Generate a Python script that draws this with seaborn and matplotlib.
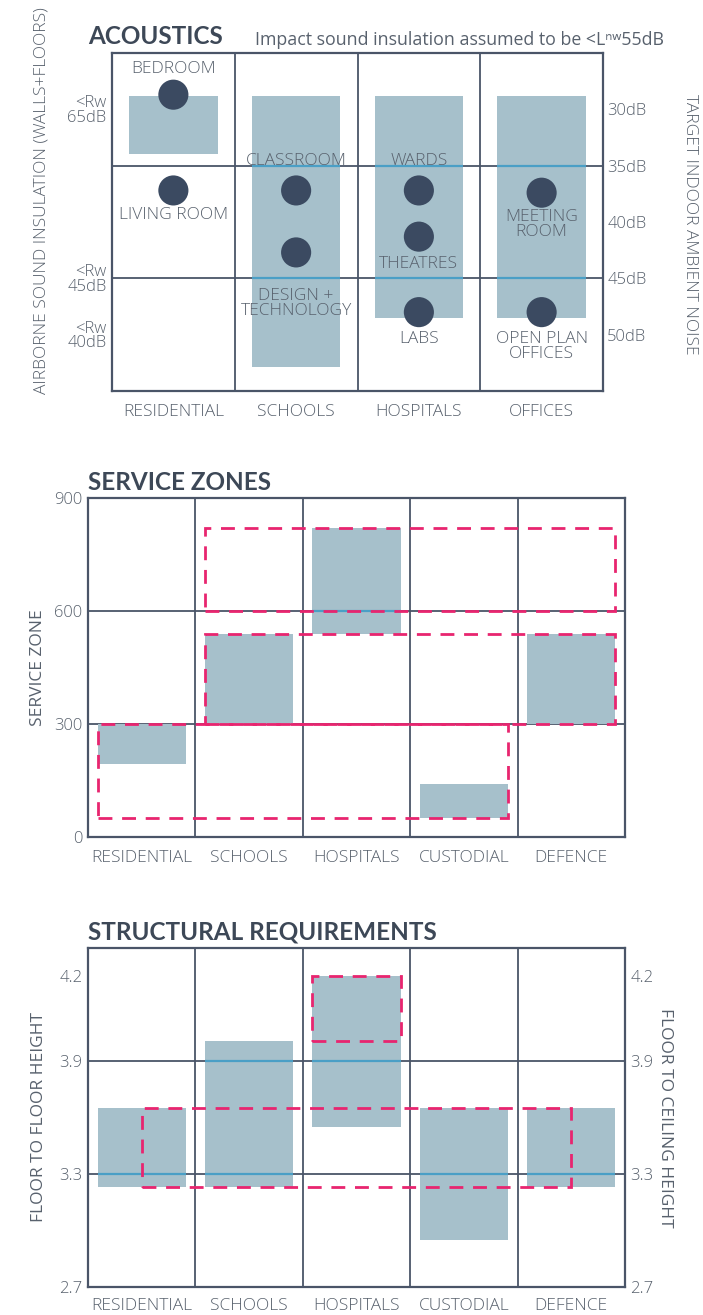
import numpy as np
import pandas as pd
import matplotlib
matplotlib.use("Agg")
import matplotlib.pyplot as plt
from matplotlib.patches import Rectangle
import seaborn as sns

# ---------- data ----------
# acoustics (y = target indoor ambient noise, dB)
AC_CATS = ["RESIDENTIAL", "SCHOOLS", "HOSPITALS", "OFFICES"]
AC_BAR_LOW = [28.8, 28.8, 28.8, 28.8]
AC_BAR_HIGH = [34.0, 52.9, 48.5, 48.5]
AC_ROOMS = ["BEDROOM", "LIVING ROOM", "CLASSROOM", "DESIGN +\nTECHNOLOGY", "WARDS",
            "THEATRES", "LABS", "MEETING\nROOM", "OPEN PLAN\nOFFICES"]
AC_ROOM_CAT = ["RESIDENTIAL", "RESIDENTIAL", "SCHOOLS", "SCHOOLS", "HOSPITALS",
               "HOSPITALS", "HOSPITALS", "OFFICES", "OFFICES"]
AC_ROOM_DB = [28.7, 37.2, 37.2, 42.7, 37.2, 41.3, 48.0, 37.4, 48.0]
AC_NOISE_TICKS = [30, 35, 40, 45, 50]
AC_NOISE_LABELS = ["30dB", "35dB", "40dB", "45dB", "50dB"]
AC_RW_TICKS = [30, 45, 50]
AC_RW_LABELS = ["<Rw\n65dB", "<Rw\n45dB", "<Rw\n40dB"]
AC_GRID = [35, 45]

# service zones
SZ_CATS = ["RESIDENTIAL", "SCHOOLS", "HOSPITALS", "CUSTODIAL", "DEFENCE"]
SZ_LOW = [195, 300, 540, 50, 300]
SZ_HIGH = [300, 540, 820, 140, 540]
SZ_BOX_FROM = ["RESIDENTIAL", "SCHOOLS", "SCHOOLS"]
SZ_BOX_TO = ["CUSTODIAL", "DEFENCE", "DEFENCE"]
SZ_BOX_LOW = [50, 300, 600]
SZ_BOX_HIGH = [300, 540, 820]
SZ_TICKS = [0, 300, 600, 900]
SZ_GRID = [300, 600]

# structural requirements (m)
ST_CATS = ["RESIDENTIAL", "SCHOOLS", "HOSPITALS", "CUSTODIAL", "DEFENCE"]
ST_LOW = [3.23, 3.23, 3.55, 2.95, 3.23]
ST_HIGH = [3.65, 3.97, 4.2, 3.65, 3.65]
ST_BOX_FROM = ["HOSPITALS", "RESIDENTIAL"]
ST_BOX_TO = ["HOSPITALS", "DEFENCE"]
ST_BOX_LOW = [3.97, 3.23]
ST_BOX_HIGH = [4.2, 3.65]
ST_TICKS = [2.7, 3.3, 3.9, 4.2]
ST_GRID = [3.3, 3.9]

# ---------- style ----------
BAR = "#a6c0cb"
BLUE = "#4a9fc6"
FRAME = "#4a5568"
PINK = "#e8256f"
DOT = "#3b4a61"
TITLE = "#3d4857"
GREY = "#58616d"
DASH = (0, (5, 3.5))
BODY = ["Open Sans", "DejaVu Sans"]
HEAD = ["Lato", "DejaVu Sans"]
FS = 12.5      # category / room / axis labels
FS_TICK = 12   # numeric tick labels

# piecewise y scale of the structural panel
ST_SCALE_IN = [2.7, 3.9, 4.3]
ST_SCALE_OUT = [0, 2, 3]
# dashed box padding (bar edge = half bar width, 0 = category centre)
SZ_BOX_PAD = [0.41, 0.41, 0.41]
ST_BOX_PAD = [0.41, 0.0]
# room label offsets in pixels (negative = above the dot)
ROOM_OFFSET = [-18, 17, -21, 36, -21, 19, 19, 16, 19]

sns.set_theme(style="white")
plt.rcParams['font.family'] = BODY
plt.rcParams['font.weight'] = 'light'

fig = plt.figure(figsize=(7.03, 13.15), dpi=100)


def frame(ax, ncat, grid):
    ax.set_xlim(-0.5, ncat - 0.5)
    for s in ax.spines.values():
        s.set_visible(True)
        s.set_color(FRAME)
        s.set_linewidth(1.6)
    for g in grid:
        ax.axhline(g, color=FRAME, lw=1.3, zorder=1)
    for i in range(ncat - 1):
        ax.axvline(i + 0.5, color=FRAME, lw=1.3, zorder=1)
    ax.tick_params(length=0, labelsize=FS_TICK, labelcolor=GREY, pad=4)
    ax.tick_params(axis="x", labelsize=FS)
    ax.set_xticks(range(ncat))


def float_bars(ax, cats, lo, hi, width, grid):
    x = np.arange(len(cats))
    ax.bar(x, np.subtract(hi, lo), bottom=lo, width=width, color=BAR, zorder=2, linewidth=0)
    for xi, l, h in zip(x, lo, hi):
        for g in grid:
            if min(l, h) < g < max(l, h):
                ax.hlines(g, xi - width / 2, xi + width / 2, color=BLUE, lw=1.6, zorder=3)


def dashed_boxes(ax, cats, c0, c1, lo, hi, pads):
    for a, b, l, h, p in zip(c0, c1, lo, hi, pads):
        x0 = cats.index(a) - p
        x1 = cats.index(b) + p
        ax.add_patch(Rectangle((x0, l), x1 - x0, h - l, fill=False, ec=PINK,
                               lw=2.0, ls=DASH, zorder=5))


def title(y, text):
    fig.text(88 / 703, 1 - y / 1315, text, fontsize=17.5, fontweight="bold",
             family=HEAD, color=TITLE, ha="left", va="center")


# ================= ACOUSTICS =================
ax1 = fig.add_axes([112 / 703, 1 - 391 / 1315, 491 / 703, 338 / 1315])
frame(ax1, len(AC_CATS), AC_GRID)
ax1.set_ylim(55, 25)
float_bars(ax1, AC_CATS, AC_BAR_LOW, AC_BAR_HIGH, 0.72, AC_GRID)

rooms = pd.DataFrame({"room": AC_ROOMS, "cat": AC_ROOM_CAT, "db": AC_ROOM_DB})
rooms["x"] = rooms["cat"].map({c: i for i, c in enumerate(AC_CATS)})
sns.scatterplot(data=rooms, x="x", y="db", s=470, color=DOT, edgecolor="none",
                ax=ax1, zorder=4, legend=False)
for (_, r), off in zip(rooms.iterrows(), ROOM_OFFSET):
    ax1.annotate(r["room"], (r["x"], r["db"]), xytext=(0, -off), textcoords="offset pixels",
                 ha="center", va="bottom" if off < 0 else "top", fontsize=FS,
                 color=GREY, linespacing=0.92, zorder=6)

ax1.set_xticklabels(AC_CATS)
ax1.set_yticks(AC_RW_TICKS)
ax1.set_yticklabels(AC_RW_LABELS, linespacing=0.85)
ax1.set_xlabel("")
ax1.set_ylabel("")
ax1.tick_params(axis="x", pad=9)

ax1r = ax1.twinx()
ax1r.set_ylim(55, 25)
ax1r.set_yticks(AC_NOISE_TICKS)
ax1r.set_yticklabels(AC_NOISE_LABELS)
ax1r.tick_params(length=0, labelsize=FS_TICK, labelcolor=GREY, pad=3)
for s in ax1r.spines.values():
    s.set_visible(False)
ax1r.grid(False)

fig.text(42 / 703, 1 - 201 / 1315, "AIRBORNE SOUND INSULATION (WALLS+FLOORS)", rotation=90,
         ha="center", va="center", fontsize=FS, color=GREY)
fig.text(690 / 703, 1 - 224 / 1315, "TARGET INDOOR AMBIENT NOISE", rotation=270,
         ha="center", va="center", fontsize=FS, color=GREY)
title(37, "ACOUSTICS")
fig.text(255 / 703, 1 - 40 / 1315, "Impact sound insulation assumed to be <L\u207f\u02b755dB",
         fontsize=12.8, color=GREY, ha="left", va="center", fontweight="normal",
         family=["Open Sans", "Noto Sans", "DejaVu Sans"])

# ================= SERVICE ZONES =================
ax2 = fig.add_axes([88 / 703, 1 - 837 / 1315, 537 / 703, 339 / 1315])
frame(ax2, len(SZ_CATS), SZ_GRID)
ax2.set_ylim(0, 900)
float_bars(ax2, SZ_CATS, SZ_LOW, SZ_HIGH, 0.82, SZ_GRID)
dashed_boxes(ax2, SZ_CATS, SZ_BOX_FROM, SZ_BOX_TO, SZ_BOX_LOW, SZ_BOX_HIGH, SZ_BOX_PAD)
ax2.set_xticklabels(SZ_CATS)
ax2.set_yticks(SZ_TICKS)
ax2.tick_params(axis="x", pad=9)
ax2.set_ylabel("SERVICE ZONE", fontsize=FS, color=GREY, labelpad=6)
title(482, "SERVICE ZONES")

# ================= STRUCTURAL REQUIREMENTS =================
fwd = lambda v: np.interp(v, ST_SCALE_IN, ST_SCALE_OUT)
inv = lambda v: np.interp(v, ST_SCALE_OUT, ST_SCALE_IN)

ax3 = fig.add_axes([88 / 703, 1 - 1287 / 1315, 537 / 703, 339 / 1315])
ax3.set_yscale("function", functions=(fwd, inv))
frame(ax3, len(ST_CATS), ST_GRID)
ax3.set_ylim(ST_SCALE_IN[0], ST_SCALE_IN[-1])
float_bars(ax3, ST_CATS, ST_LOW, ST_HIGH, 0.82, ST_GRID)
dashed_boxes(ax3, ST_CATS, ST_BOX_FROM, ST_BOX_TO, ST_BOX_LOW, ST_BOX_HIGH, ST_BOX_PAD)
ax3.set_xticklabels(ST_CATS)
ax3.set_yticks(ST_TICKS)
ax3.set_yticklabels([f"{t:.1f}" for t in ST_TICKS])
ax3.minorticks_off()
ax3.tick_params(axis="x", pad=8)
ax3.set_ylabel("FLOOR TO FLOOR HEIGHT", fontsize=FS, color=GREY, labelpad=9)

ax3r = ax3.twinx()
ax3r.set_yscale("function", functions=(fwd, inv))
ax3r.set_ylim(ST_SCALE_IN[0], ST_SCALE_IN[-1])
ax3r.set_yticks(ST_TICKS)
ax3r.set_yticklabels([f"{t:.1f}" for t in ST_TICKS])
ax3r.minorticks_off()
ax3r.tick_params(length=0, labelsize=FS_TICK, labelcolor=GREY, pad=4)
for s in ax3r.spines.values():
    s.set_visible(False)
ax3r.grid(False)
ax3r.set_ylabel("FLOOR TO CEILING HEIGHT", fontsize=FS, color=GREY, rotation=270,
                labelpad=14)
title(932, "STRUCTURAL REQUIREMENTS")

fig.savefig("out.png", dpi=100)
